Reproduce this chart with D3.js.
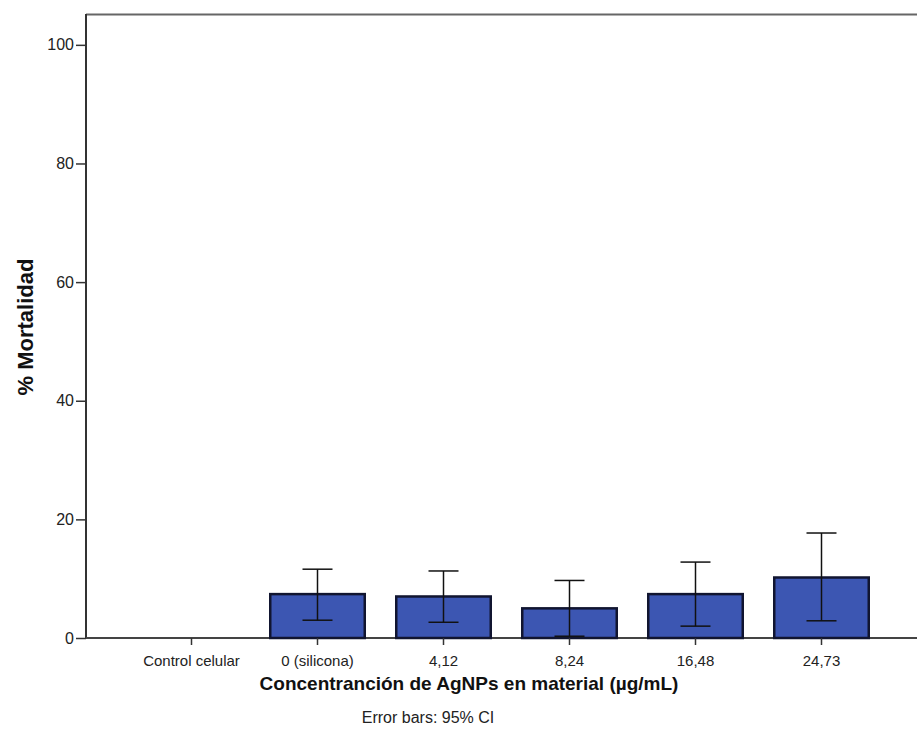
<!DOCTYPE html>
<html>
<head>
<meta charset="utf-8">
<script src="https://cdn.jsdelivr.net/npm/d3@7"></script>
<style>
    body { margin: 0; background: #fff; }
    text { font-family: Arial, "Liberation Sans", sans-serif; }
</style>
</head>
<body>
<script>
//chart data
var categories = ["Control celular", "0 (silicona)", "4,12", "8,24", "16,48", "24,73"];
var means = [0, 7.4, 7.0, 5.0, 7.4, 10.2];
var ciLow = [null, 3.0, 2.65, 0.3, 2.0, 2.9];
var ciHigh = [null, 11.6, 11.3, 9.7, 12.8, 17.7];
var yTicks = [0, 20, 40, 60, 80, 100];

(function(){

    //frame dimensions
    var width = 917,
        height = 751,
        plotLeft = 86,
        plotTop = 14,
        plotBottom = 638;

    var svg = d3.select("body")
        .append("svg")
        .attr("width", width)
        .attr("height", height);

    var yScale = d3.scaleLinear()
        .domain([0, 105.2])
        .range([plotBottom, plotTop]);

    var xScale = d3.scaleBand()
        .domain(categories)
        .range([128.5, 884.5])
        .paddingInner(0.25)
        .paddingOuter(0.125);

    //top frame line
    svg.append("line")
        .attr("x1", plotLeft).attr("x2", width)
        .attr("y1", plotTop + 0.5).attr("y2", plotTop + 0.5)
        .attr("stroke", "#666").attr("stroke-width", 2);

    //y axis
    var yAxis = d3.axisLeft(yScale)
        .tickValues(yTicks)
        .tickSize(10)
        .tickPadding(2);

    var yG = svg.append("g")
        .attr("transform", "translate(" + plotLeft + ",0)")
        .call(yAxis);
    yG.select(".domain").remove();
    yG.selectAll(".tick line").attr("stroke", "#333").attr("stroke-width", 1.5);
    yG.selectAll(".tick text").attr("font-size", 16).attr("fill", "#222");

    svg.append("line")
        .attr("x1", plotLeft).attr("x2", plotLeft)
        .attr("y1", plotTop).attr("y2", plotBottom)
        .attr("stroke", "#333").attr("stroke-width", 2);

    //x axis baseline under the bars
    svg.append("line")
        .attr("x1", plotLeft).attr("x2", width)
        .attr("y1", plotBottom).attr("y2", plotBottom)
        .attr("stroke", "#444").attr("stroke-width", 2);

    //bars
    svg.selectAll(".bar")
        .data(categories)
        .enter()
        .append("rect")
        .attr("class", "bar")
        .attr("x", function(d){ return xScale(d); })
        .attr("width", xScale.bandwidth())
        .attr("y", function(d, i){ return yScale(means[i]); })
        .attr("height", function(d, i){ return plotBottom - yScale(means[i]); })
        .attr("fill", "#3c56b2")
        .attr("stroke", "#111530")
        .attr("stroke-width", 2.5);

    //x axis
    var xAxis = d3.axisBottom(xScale)
        .tickSize(7)
        .tickPadding(10);

    var xG = svg.append("g")
        .attr("transform", "translate(0," + plotBottom + ")")
        .call(xAxis);
    xG.select(".domain").remove();
    xG.selectAll(".tick line").attr("stroke", "#333").attr("stroke-width", 1.5);
    xG.selectAll(".tick text").attr("font-size", 15).attr("fill", "#222");

    //error bars
    var capHalf = 15;
    var errs = svg.selectAll(".err")
        .data(categories.filter(function(d, i){ return ciHigh[i] !== null; }))
        .enter()
        .append("g")
        .attr("class", "err")
        .attr("stroke", "#111")
        .attr("stroke-width", 1.5);

    errs.append("line")
        .attr("x1", function(d){ return xScale(d) + xScale.bandwidth() / 2; })
        .attr("x2", function(d){ return xScale(d) + xScale.bandwidth() / 2; })
        .attr("y1", function(d){ return yScale(ciLow[categories.indexOf(d)]); })
        .attr("y2", function(d){ return yScale(ciHigh[categories.indexOf(d)]); });

    [ciLow, ciHigh].forEach(function(arr){
        errs.append("line")
            .attr("x1", function(d){ return xScale(d) + xScale.bandwidth() / 2 - capHalf; })
            .attr("x2", function(d){ return xScale(d) + xScale.bandwidth() / 2 + capHalf; })
            .attr("y1", function(d){ return yScale(arr[categories.indexOf(d)]); })
            .attr("y2", function(d){ return yScale(arr[categories.indexOf(d)]); });
    });

    //axis titles
    svg.append("text")
        .attr("x", 469)
        .attr("y", 690)
        .attr("text-anchor", "middle")
        .attr("font-size", 19)
        .attr("font-weight", "bold")
        .attr("fill", "#111")
        .text("Concentranción de AgNPs en material (µg/mL)");

    svg.append("text")
        .attr("transform", "translate(33,327) rotate(-90)")
        .attr("text-anchor", "middle")
        .attr("font-size", 22)
        .attr("font-weight", "bold")
        .attr("fill", "#111")
        .text("% Mortalidad");

    svg.append("text")
        .attr("x", 428)
        .attr("y", 723)
        .attr("text-anchor", "middle")
        .attr("font-size", 16)
        .attr("fill", "#222")
        .text("Error bars: 95% CI");

})();
</script>
</body>
</html>
